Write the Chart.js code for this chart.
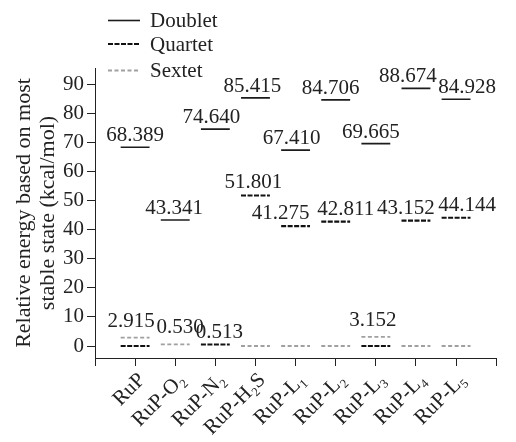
<!DOCTYPE html>
<html>
<head>
<meta charset="utf-8">
<script src="https://cdn.jsdelivr.net/npm/chart.js@4/dist/chart.umd.min.js"></script>
<style>
  html, body { margin: 0; padding: 0; background: #fff; }
  canvas { display: block; }
</style>
</head>
<body>
<canvas id="levels" width="516" height="442"></canvas>
<script>
// Spin-state energies relative to the most stable state (kcal/mol)
const categories = ['RuP', 'RuP-O₂', 'RuP-N₂', 'RuP-H₂S', 'RuP-L₁', 'RuP-L₂', 'RuP-L₃', 'RuP-L₄', 'RuP-L₅'];
const doublet = [68.389, 43.341, 74.640, 85.415, 67.410, 84.706, 69.665, 88.674, 84.928];
const quartet = [0, null, 0.513, 51.801, 41.275, 42.811, 0, 43.152, 44.144];
const sextet  = [2.915, 0.530, null, 0, 0, 0, 3.152, 0, 0];
const yTickValues = [0, 10, 20, 30, 40, 50, 60, 70, 80, 90];

// Horizontal nudges (px) for the value labels, so neighbours do not collide
const labelShift = {
  Doublet: [0, -1, -4, -3, -4, -5, -5, -8, 11],
  Quartet: [0, 0, 4, -2, -15, 10, 0, -10, 11],
  Sextet:  [-4, 5, 0, 0, 0, 0, -3, 0, 0]
};
const labelGap = { Doublet: 6, Quartet: 7, Sextet: 11 };

const SERIF = "'Liberation Serif', 'Times New Roman', serif";
const TEXT = '#222';
const HALF = 0.36; // half width of a level bar, in category units

// Each level is a short horizontal bar; a null point breaks the line between bars
function levelPoints(values) {
  const pts = [];
  values.forEach((v, i) => {
    if (v === null) return;
    const c = i + 1;
    pts.push({ x: c - HALF, y: v }, { x: c + HALF, y: v }, { x: c + HALF, y: null });
  });
  return pts;
}

const series = [
  { label: 'Doublet', values: doublet, color: '#1c1c1c', width: 1.6, dash: [] },
  { label: 'Quartet', values: quartet, color: '#111111', width: 2.2, dash: [5, 1.5] },
  { label: 'Sextet',  values: sextet,  color: '#a0a0a0', width: 1.8, dash: [4, 2.5] }
];

const legendPlugin = {
  id: 'stateLegend',
  afterDraw(chart) {
    const ctx = chart.ctx;
    const rows = [20.5, 44, 70.5];
    chart.data.datasets.forEach((ds, k) => {
      const y = rows[k];
      ctx.save();
      ctx.strokeStyle = ds.borderColor;
      ctx.lineWidth = ds.borderWidth;
      ctx.setLineDash(ds.borderDash || []);
      ctx.beginPath();
      ctx.moveTo(108, y);
      ctx.lineTo(140, y);
      ctx.stroke();
      ctx.setLineDash([]);
      ctx.fillStyle = TEXT;
      ctx.font = '21px ' + SERIF;
      ctx.textAlign = 'left';
      ctx.textBaseline = 'alphabetic';
      ctx.fillText(ds.label, 150, y + 6.5);
      ctx.restore();
    });
  }
};

const valueLabelPlugin = {
  id: 'levelValues',
  afterDatasetsDraw(chart) {
    const ctx = chart.ctx;
    const xs = chart.scales.x, ys = chart.scales.y;
    ctx.save();
    ctx.fillStyle = TEXT;
    ctx.font = '21px ' + SERIF;
    ctx.textAlign = 'center';
    ctx.textBaseline = 'alphabetic';
    series.forEach(s => {
      s.values.forEach((v, i) => {
        if (v === null || v === 0) return;
        const px = xs.getPixelForValue(i + 1) + labelShift[s.label][i];
        const py = ys.getPixelForValue(v) - labelGap[s.label];
        ctx.fillText(v.toFixed(3), px, py);
      });
    });
    ctx.restore();
  }
};

new Chart(document.getElementById('levels'), {
  type: 'line',
  data: {
    datasets: series.map(s => ({
      label: s.label,
      data: levelPoints(s.values),
      borderColor: s.color,
      borderWidth: s.width,
      borderDash: s.dash,
      borderCapStyle: 'butt',
      pointRadius: 0,
      pointHoverRadius: 0,
      spanGaps: false,
      tension: 0,
      fill: false
    }))
  },
  options: {
    responsive: false,
    animation: false,
    devicePixelRatio: 1,
    layout: { padding: { top: 68, right: 2, left: 0, bottom: 0 } },
    plugins: { legend: { display: false }, tooltip: { enabled: false } },
    events: [],
    scales: {
      x: {
        type: 'linear',
        min: 0,
        max: 10,
        afterBuildTicks: s => { s.ticks = [0].concat(categories.map((_, i) => i + 1), [10]).map(v => ({ value: v })); },
        afterFit: s => { s.height = 84; },
        border: { display: true, color: TEXT, width: 1 },
        grid: { display: true, drawOnChartArea: false, drawTicks: true, tickLength: 8, color: TEXT, lineWidth: 1 },
        ticks: {
          autoSkip: false,
          maxRotation: 45,
          minRotation: 45,
          padding: 2,
          labelOffset: 7,
          color: TEXT,
          font: { family: SERIF, size: 21 },
          callback: v => categories[v - 1] ?? ''
        }
      },
      y: {
        type: 'linear',
        min: -4.13,
        max: 95.68,
        afterBuildTicks: s => { s.ticks = yTickValues.map(v => ({ value: v })); },
        afterFit: s => { s.width = 95; },
        border: { display: true, color: TEXT, width: 1 },
        grid: { display: true, drawOnChartArea: false, drawTicks: true, tickLength: 8, color: TEXT, lineWidth: 1 },
        ticks: { padding: 3, color: TEXT, font: { family: SERIF, size: 21 } },
        title: {
          display: true,
          text: ['Relative energy based on most', 'stable state (kcal/mol)'],
          color: TEXT,
          font: { family: SERIF, size: 22, lineHeight: 1.1 },
          padding: { top: 12, bottom: 0 }
        }
      }
    }
  },
  plugins: [valueLabelPlugin, legendPlugin]
});
</script>
</body>
</html>
